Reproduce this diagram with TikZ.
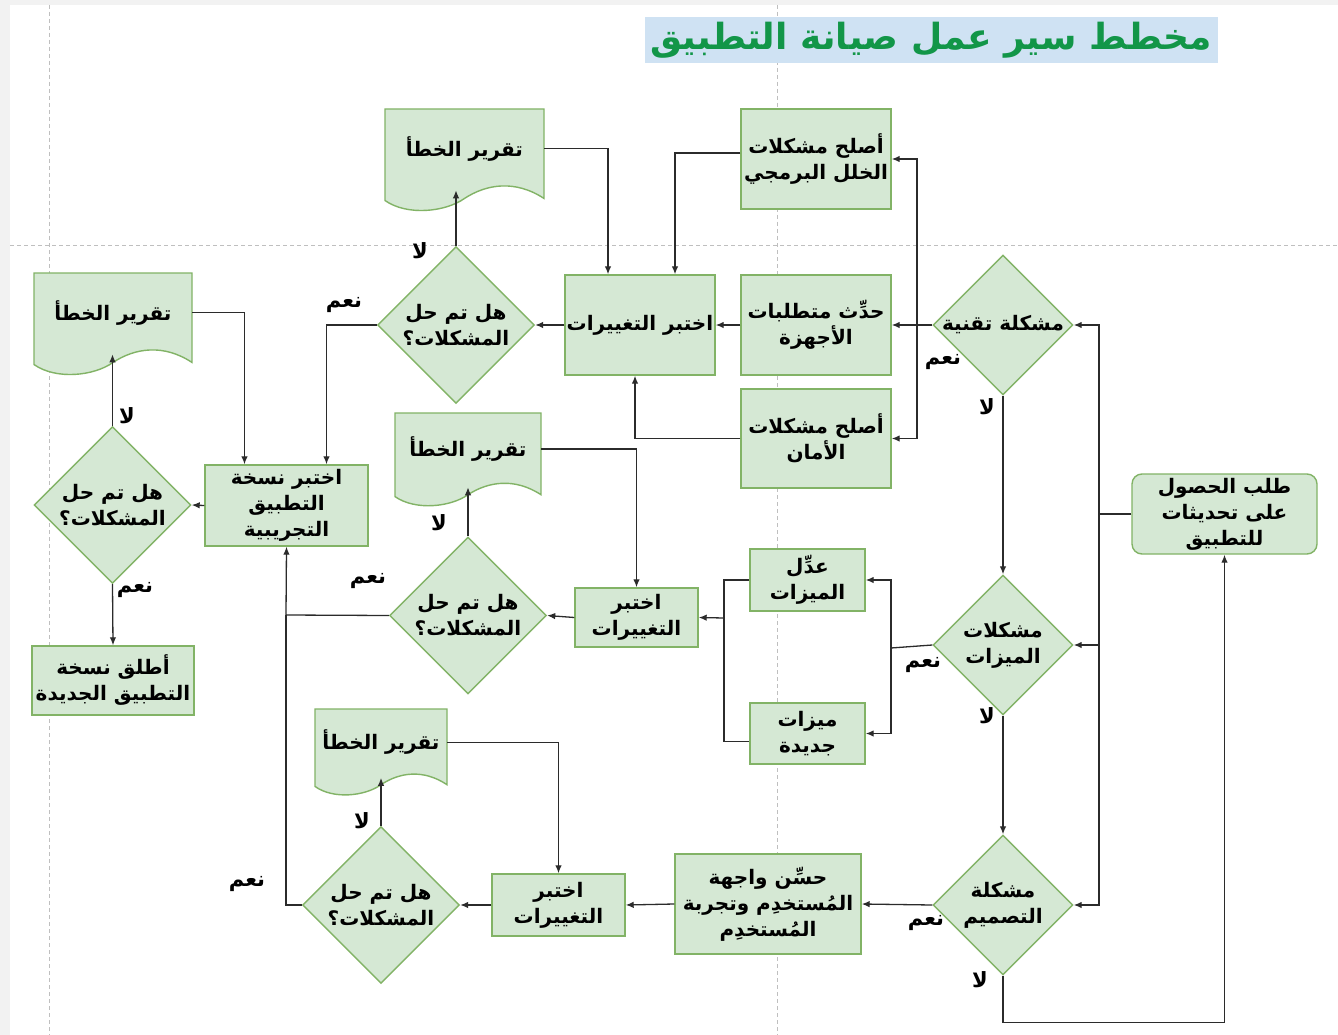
\documentclass[tikz,border=0pt]{standalone}
\usepackage{fontspec}
\newfontfamily\arabicfont[Script=Arabic]{DejaVu Sans}
\TeXXeTstate=1
\usepackage{tikz}
\usetikzlibrary{shapes.geometric, arrows.meta}
\definecolor{kastengruen}{HTML}{D5E8D4}
\definecolor{randgruen}{HTML}{82B366}
\definecolor{titelgruen}{RGB}{18,150,72}
\definecolor{titelblau}{HTML}{CFE2F3}
\definecolor{pfeilgrau}{HTML}{2B2B2B}
% eine Zeile Text, von rechts nach links
\newcommand{\zeile}[1]{\beginR #1\endR}
% Dokument-Form: Name, links, oben, Breite, Hoehe
\newcommand{\blatt}[5]{%
  \filldraw[blattrand] (#2,#3) -- ({#2+#4},#3) -- ({#2+#4},{#3+0.86*#5})
    .. controls ({#2+0.82*#4},{#3+0.68*#5}) and ({#2+0.64*#4},{#3+0.72*#5}) .. ({#2+0.5*#4},{#3+0.86*#5})
    .. controls ({#2+0.38*#4},{#3+0.99*#5}) and ({#2+0.14*#4},{#3+1.03*#5}) .. (#2,{#3+0.88*#5}) -- cycle;
  \node[blatttext, minimum width=#4, minimum height={0.8*#5}] (#1) at ({#2+0.5*#4},{#3+0.38*#5}) {\zeile{تقرير الخطأ}};
}
\begin{document}
\begin{tikzpicture}[x=1pt, y=-1pt, >={Latex[length=8pt,width=6.5pt]},
    kasten/.style={rectangle, draw=randgruen, fill=kastengruen, line width=1.4pt, align=center, inner sep=0pt,
      font=\arabicfont\bfseries\fontsize{20}{26}\selectfont},
    raute/.style={kasten, diamond, inner sep=-6pt, minimum width=#1, minimum height=#1},
    blattrand/.style={draw=randgruen, fill=kastengruen, line width=1.4pt},
    blatttext/.style={inner sep=0pt, align=center, font=\arabicfont\bfseries\fontsize{20}{26}\selectfont},
    verb/.style={draw=pfeilgrau, line width=1.3pt},
    jn/.style={inner sep=0pt, font=\arabicfont\bfseries\fontsize{21}{24}\selectfont},
    hilfslinie/.style={draw=gray!50, line width=1pt, dash pattern=on 4pt off 3pt}]
  % Seite und Hilfslinien
  \useasboundingbox (0,0) rectangle (1338,1035);
  \fill[gray!10] (0,0) rectangle (1338,1035);
  \fill[white] (10,5) rectangle (1338,1035);
  \draw[hilfslinie] (49,5) -- (49,1035);
  \draw[hilfslinie] (777,5) -- (777,1035);
  \draw[hilfslinie] (10,245) -- (1338,245);
  % Titel
  \node[fill=titelblau, minimum width=573, minimum height=46, inner sep=0pt, text=titelgruen,
    font=\arabicfont\bfseries\fontsize{36}{40}\selectfont] (titel) at (931,40) {\zeile{مخطط سير عمل صيانة التطبيق}};
  % Anfrage und Entscheidungen
  \node[kasten, rounded corners=10, minimum width=185, minimum height=80] (start) at (1224.5,514)
    {\zeile{طلب الحصول}\\\zeile{على تحديثات}\\\zeile{للتطبيق}};
  \node[raute=140] (d1) at (1003,325) {\zeile{مشكلة تقنية}};
  \node[raute=140] (d2) at (1003,645) {\zeile{مشكلات}\\\zeile{الميزات}};
  \node[raute=140] (d3) at (1003,905) {\zeile{مشكلة}\\\zeile{التصميم}};
  % technischer Zweig
  \node[kasten, minimum width=150, minimum height=100] (fixbug) at (816,159) {\zeile{أصلح مشكلات}\\\zeile{الخلل البرمجي}};
  \node[kasten, minimum width=150, minimum height=100] (hw) at (816,325) {\zeile{حدِّث متطلبات}\\\zeile{الأجهزة}};
  \node[kasten, minimum width=150, minimum height=99] (sec) at (816,438.5) {\zeile{أصلح مشكلات}\\\zeile{الأمان}};
  \node[kasten, minimum width=150, minimum height=100] (test1) at (640,325) {\zeile{اختبر التغييرات}};
  \node[raute=157] (q1) at (456,325) {\zeile{هل تم حل}\\\zeile{المشكلات؟}};
  \blatt{err1}{385}{109}{159}{104}
  % Testversion und Freigabe
  \node[kasten, minimum width=163, minimum height=81] (trial) at (286.5,505.5) {\zeile{اختبر نسخة}\\\zeile{التطبيق}\\\zeile{التجريبية}};
  \node[raute=157] (q4) at (112.5,505) {\zeile{هل تم حل}\\\zeile{المشكلات؟}};
  \blatt{err4}{34}{273}{158}{104}
  \node[kasten, minimum width=162, minimum height=69] (release) at (113,680.5) {\zeile{أطلق نسخة}\\\zeile{التطبيق الجديدة}};
  % Zweig Funktionen
  \node[kasten, minimum width=115, minimum height=62] (modfeat) at (807.5,580) {\zeile{عدِّل}\\\zeile{الميزات}};
  \node[kasten, minimum width=115, minimum height=61] (newfeat) at (807.5,733.5) {\zeile{ميزات}\\\zeile{جديدة}};
  \node[kasten, minimum width=123, minimum height=59] (test2) at (636.5,617.5) {\zeile{اختبر}\\\zeile{التغييرات}};
  \node[raute=157] (q2) at (468,615.5) {\zeile{هل تم حل}\\\zeile{المشكلات؟}};
  \blatt{err2}{395}{413}{146}{95}
  % Zweig Gestaltung
  \node[kasten, minimum width=186, minimum height=100] (ux) at (768,904)
    {\zeile{حسِّن واجهة}\\\zeile{المُستخدِم وتجربة}\\\zeile{المُستخدِم}};
  \node[kasten, minimum width=133, minimum height=62] (test3) at (558.5,905) {\zeile{اختبر}\\\zeile{التغييرات}};
  \node[raute=157] (q3) at (381,905) {\zeile{هل تم حل}\\\zeile{المشكلات؟}};
  \blatt{err3}{315}{709}{132}{88}
  % Verzweigungspunkte
  \coordinate (stamm) at (1099,514);
  \coordinate (tv1) at (917,325);
  \coordinate (tv2) at (891,648);
  \coordinate (tv3) at (724,618);
  \coordinate (tv4) at (286,615);
  % Verbindungen
  \draw[verb] (start.west) -- (stamm);
  \draw[verb,->] (stamm) |- (d1.east);
  \draw[verb,->] (stamm) |- (d2.east);
  \draw[verb,->] (stamm) |- (d3.east);
  \draw[verb,->] (d1.south) -- (d2.north);
  \draw[verb,->] (d2.south) -- (d3.north);
  \draw[verb,->] (d3.south) -- ++(0,47) -| (start.south);
  \draw[verb] (d1.west) -- (tv1);
  \draw[verb,->] (tv1) |- (fixbug.east);
  \draw[verb,->] (tv1) |- (sec.east);
  \draw[verb,->] (d1.west) -- (hw.east);
  \draw[verb,->] (hw.west) -- (test1.east);
  \draw[verb,->] ([yshift=6pt]fixbug.west) -| ([xshift=35pt]test1.north);
  \draw[verb,->] (sec.west) -| ([xshift=-5pt]test1.south);
  \draw[verb,->] (err1.east) -| ([xshift=-32pt]test1.north);
  \draw[verb,->] (test1.west) -- (q1.east);
  \draw[verb,->] (q1.north) -- (q1.north |- err1.south);
  \draw[verb,->] (q1.west) -| ([xshift=40pt]trial.north);
  \draw[verb,->] (err4.east) -| ([xshift=-42pt]trial.north);
  \draw[verb,->] (trial.west) -- (q4.east);
  \draw[verb,->] (q4.north) -- (q4.north |- err4.south);
  \draw[verb,->] (q4.south) -- (release.north);
  \draw[verb] (d2.west) -- (tv2);
  \draw[verb,->] (tv2) |- (modfeat.east);
  \draw[verb,->] (tv2) |- (newfeat.east);
  \draw[verb] (modfeat.west) -| (tv3) |- ([yshift=-8pt]newfeat.west);
  \draw[verb,->] (tv3) -- (test2.east);
  \draw[verb,->] (test2.west) -- (q2.east);
  \draw[verb,->] (q2.north) -- (q2.north |- err2.south);
  \draw[verb,->] (err2.east) -| (test2.north);
  \draw[verb] (q2.west) -- (tv4);
  \draw[verb,->] (tv4) -- (trial.south);
  \draw[verb,->] (d3.west) -- (ux.east);
  \draw[verb,->] (ux.west) -- (test3.east);
  \draw[verb,->] (test3.west) -- (q3.east);
  \draw[verb,->] (q3.north) -- (q3.north |- err3.south);
  \draw[verb,->] (err3.east) -| (test3.north);
  \draw[verb] (q3.west) -| (tv4);
  % Ja / Nein
  \node[jn] (ja1) at (943,362) {\zeile{نعم}};
  \node[jn] (nein1) at (987,407) {\zeile{لا}};
  \node[jn] (ja2) at (923,665) {\zeile{نعم}};
  \node[jn] (nein2) at (987,716) {\zeile{لا}};
  \node[jn] (ja3) at (926,923) {\zeile{نعم}};
  \node[jn] (nein3) at (980,980) {\zeile{لا}};
  \node[jn] (neinq1) at (420,251) {\zeile{لا}};
  \node[jn] (jaq1) at (344,305) {\zeile{نعم}};
  \node[jn] (neinq2) at (439,523) {\zeile{لا}};
  \node[jn] (jaq2) at (368,581) {\zeile{نعم}};
  \node[jn] (neinq3) at (362,821) {\zeile{لا}};
  \node[jn] (jaq3) at (247,884) {\zeile{نعم}};
  \node[jn] (neinq4) at (127,416) {\zeile{لا}};
  \node[jn] (jaq4) at (135,590) {\zeile{نعم}};
\end{tikzpicture}
\end{document}
